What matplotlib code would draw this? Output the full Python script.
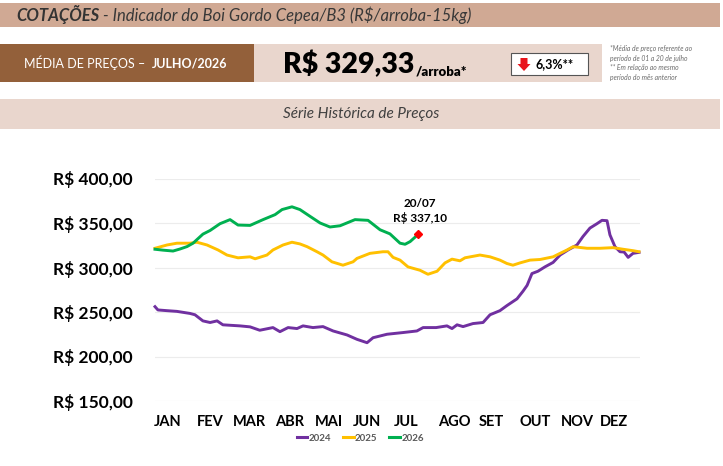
import matplotlib
matplotlib.use("Agg")
import matplotlib.pyplot as plt
from matplotlib.patches import Rectangle, Polygon

# ---------------- dados (R$/arroba) ----------------
# eixo x: posição no ano (pregões, 0..250)
dias_2024 = [0, 1.5, 6.2, 11.3, 18, 20.6, 24.7, 28.4, 32, 35, 43.8, 49, 54, 60.8, 64.4,
             68.6, 73.2, 76.3, 81.4, 86.6, 91.8, 99, 104.1, 109.3, 112.4, 119.6, 127.8,
             135, 138.2, 144.9, 150.5, 153.1, 155.7, 158.8, 163.9, 169.1, 172.7, 177.8,
             181.4, 186.6, 189.7, 191.8, 194.3, 197.4, 201, 205.2, 208.8, 212.9, 217.5,
             220.6, 224.2, 227.8, 230.4, 233, 234.5, 237.1, 239.7, 241.8, 243.9, 246.4, 249.5]
precos_2024 = [256, 252.3, 251.5, 250.7, 248.4, 246.9, 240, 238.2, 240, 235.6, 234.4, 233.3,
               229.5, 232.5, 227.9, 232.5, 231.4, 234.4, 232.5, 233.6, 228.7, 224.2, 219.3,
               215.5, 221.1, 225, 226.9, 228.7, 232.5, 232.5, 234.4, 231.4, 235.6, 233.6,
               237, 238.2, 246.9, 251.5, 257.2, 264.8, 273.4, 279.9, 293.2, 295.8, 300.7,
               305.7, 314, 319.7, 325.3, 334.8, 344.3, 349.2, 353, 352.6, 336.7, 323.4,
               317.7, 317.4, 311.4, 315.9, 317]

dias_2025 = [0, 6.2, 11.3, 18, 21.6, 26.8, 32.5, 37.1, 42.8, 49, 51.6, 57.7, 60.8, 66, 70.6,
             74.7, 78.4, 83.5, 86.6, 91.2, 96.9, 102.1, 104.1, 110.8, 117.5, 120.1, 122.7,
             126.3, 130.4, 136.6, 140.7, 145.4, 149.5, 153.1, 157.2, 159.8, 167.5, 172.7,
             177.8, 181.4, 184.5, 188.2, 193.3, 198.5, 205.2, 208.8, 212.4, 215.5, 222.7,
             229.4, 236.1, 241.3, 246.4, 249.5]
precos_2025 = [321.6, 325.3, 327.3, 327.3, 328.4, 325.3, 319.7, 314, 310.9, 312, 309.8, 314,
               319.7, 325.3, 328.4, 326.5, 323.4, 317.7, 314, 306.4, 302.6, 306.4, 310.2,
               315.9, 317.7, 317.7, 311.4, 308.3, 300.7, 296.9, 292.4, 295.8, 305.2, 309.4,
               307.5, 310.9, 314, 312, 308.3, 304.5, 302.6, 305.2, 308.3, 309, 312, 315.9,
               319.7, 323.4, 321.6, 321.6, 322.3, 320.5, 318.9, 317.7]

dias_2026 = [0, 4.1, 9.3, 12.9, 16.5, 19.6, 24.7, 28.4, 33.5, 38.7, 42.8, 49, 55.7, 61.9,
             65.5, 70.6, 74.7, 79.9, 85.1, 90.2, 95.4, 103.1, 109.8, 116, 121.1, 126.3,
             128.9, 131.5, 135.6]
precos_2026 = [320.5, 319.5, 318.5, 320.8, 323.5, 327.3, 337.5, 341.6, 349.2, 353.8, 347.7,
               347.3, 353.8, 359.4, 365.1, 368.2, 365.1, 357.5, 350, 345.5, 346.9, 353.8,
               353, 342.4, 337.8, 327.3, 326.1, 329.1, 337.1]

meses = ["JAN", "FEV", "MAR", "ABR", "MAI", "JUN", "JUL", "AGO", "SET", "OUT", "NOV", "DEZ"]
pos_meses = [6.3, 28.7, 48.6, 69.4, 89.7, 109.1, 129.2, 154.5, 173.6, 196.2, 217.7, 236.6]
yticks = [150, 200, 250, 300, 350, 400]

media_mes = "R$ 329,33"
variacao = "6,3%**"
ultimo_dia = "20/07"
ultimo_valor = "R$ 337,10"

# ---------------- cores / fontes ----------------
C_TITULO = "#D0A994"
C_CLARO = "#E9D6CD"
C_MARROM = "#93603A"
plt.rcParams["font.family"] = ["Lato", "DejaVu Sans"]

fig = plt.figure(figsize=(7.23, 4.66), dpi=100)

# camada de fundo em pixels
bg = fig.add_axes([0, 0, 1, 1])
bg.set_xlim(0, 723)
bg.set_ylim(466, 0)
bg.axis("off")

bg.add_patch(Rectangle((0, 3), 720, 24, color=C_TITULO, lw=0))
t1 = bg.text(16, 15, "COTAÇÕES", fontsize=12, fontweight="bold", style="italic",
             color="#333333", va="center")
bg.annotate(" - Indicador do Boi Gordo Cepea/B3 (R$/arroba-15kg)", xy=(1, 0.5),
            xycoords=t1, va="center", fontsize=12, style="italic", color="#383838")

bg.add_patch(Rectangle((0, 44), 254, 38, color=C_MARROM, lw=0))
bg.add_patch(Rectangle((254, 44), 348, 38, color=C_CLARO, lw=0))
t2 = bg.text(24, 63, "MÉDIA DE PREÇOS –  ", fontsize=9, color="white", va="center")
bg.annotate("JULHO/2026", xy=(1, 0.5), xycoords=t2, fontsize=9, color="white",
            fontweight="bold", va="center")
t3 = bg.text(283, 73, media_mes, fontsize=20.5, fontweight="heavy", color="black",
             va="baseline")
bg.annotate("/arroba*", xy=(1.01, 0.02), xycoords=t3, fontsize=9.5, fontweight="heavy",
            color="black", va="bottom")

bg.add_patch(Rectangle((511, 53), 77, 22, facecolor="white", edgecolor="#555555", lw=0.8))
bg.add_patch(Polygon([(520.5, 58), (527.5, 58), (527.5, 64), (530.5, 64), (524, 71),
                      (517.5, 64), (520.5, 64)], closed=True, color="#E8141B", lw=0))
bg.text(536, 64, variacao, fontsize=9, fontweight="bold", color="black", va="center")

notas = ["*Média de preço referente ao", "período de 01 a 20 de julho",
         "** Em relação ao mesmo", "período do mês anterior"]
for i, linha in enumerate(notas):
    bg.text(610, 49 + i * 9.4, linha, fontsize=4.9, style="italic", color="#6b6b6b",
            va="center")

bg.add_patch(Rectangle((0, 99), 720, 30, color=C_CLARO, lw=0))
bg.text(361, 114, "Série Histórica de Preços", fontsize=11, style="italic",
        color="#404040", ha="center", va="center")

# ---------------- gráfico ----------------
ax = fig.add_axes([155 / 723, 65 / 466, 485 / 723, 222.5 / 466])
ax.set_facecolor("none")
ax.plot(dias_2024, precos_2024, color="#7030A0", lw=2.1, label="2024", clip_on=False)
ax.plot(dias_2025, precos_2025, color="#FFC000", lw=2.1, label="2025", clip_on=False)
ax.plot(dias_2026, precos_2026, color="#00B050", lw=2.1, label="2026", clip_on=False)
ax.plot(dias_2026[-1], precos_2026[-1], marker="D", ms=4.5, color="#FF0000", clip_on=False)
ax.annotate(ultimo_dia + "\n" + ultimo_valor, xy=(dias_2026[-1], precos_2026[-1]),
            xytext=(1.5, 17), textcoords="offset points", ha="center", va="center",
            fontsize=8.5, fontweight="bold", linespacing=1.35)

ax.set_xlim(0, 250)
ax.set_ylim(150, 400)
ax.set_yticks(yticks)
ax.set_yticklabels([f"R$ {v:.2f}".replace(".", ",") for v in yticks],
                   fontsize=12.5, fontweight="bold")
ax.set_xticks(pos_meses)
ax.set_xticklabels(meses, fontsize=10.5, fontweight="bold")
ax.tick_params(axis="y", length=0, pad=16)
ax.tick_params(axis="x", length=0, pad=10)
ax.grid(axis="y", color="#ececec", lw=0.8)
ax.set_axisbelow(True)
for s in ax.spines.values():
    s.set_visible(False)

leg = ax.legend(loc="center", bbox_to_anchor=(0.423, -0.168), ncol=3, frameon=False,
                handlelength=1.1, handletextpad=0.15, columnspacing=1.2,
                prop={"weight": "bold", "size": 7})
for t in leg.get_texts():
    t.set_color("#595959")
for l in leg.get_lines():
    l.set_linewidth(2.2)

fig.savefig("out.png", dpi=100)
